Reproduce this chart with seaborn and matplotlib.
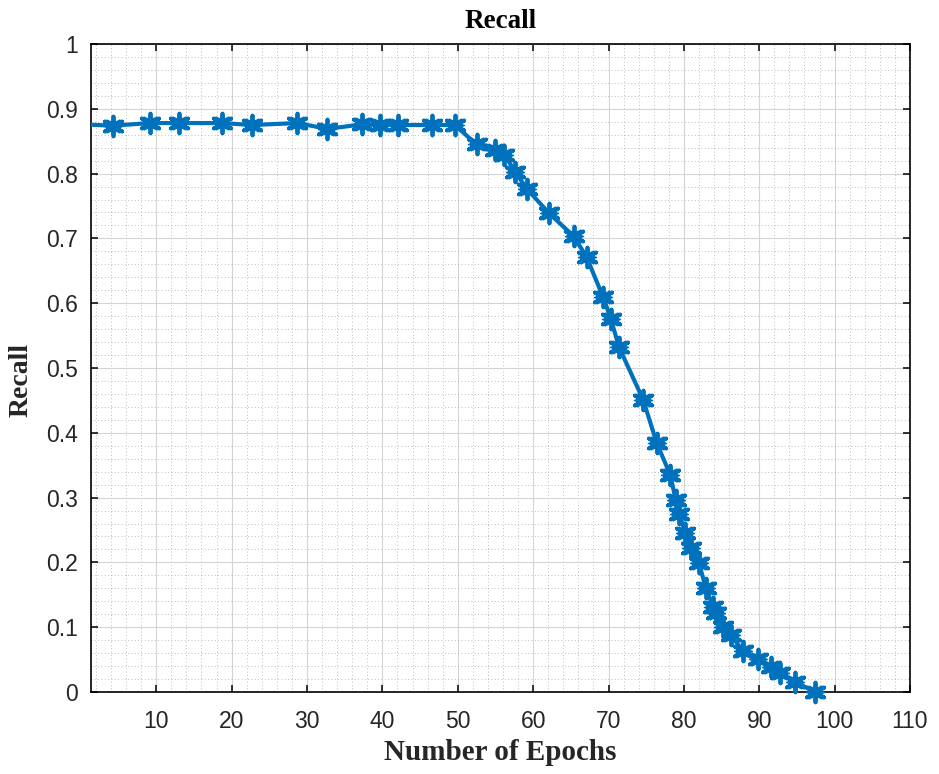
import numpy as np
import pandas as pd
import matplotlib
matplotlib.use("Agg")
import matplotlib.pyplot as plt
import seaborn as sns
from matplotlib.ticker import MultipleLocator

# ---- data ----
epochs = [0, 4.2, 9.2, 13.0, 18.7, 22.7, 28.7, 32.7, 37.3, 39.7, 42.1, 46.6, 49.6,
          52.5, 54.9, 56.2, 57.6, 59.2, 62.1, 65.4, 67.1, 69.3, 70.3, 71.4, 74.6,
          76.4, 78.2, 78.9, 79.4, 80.2, 80.9, 82.0, 82.9, 83.9, 84.2, 85.2, 86.2,
          87.9, 89.8, 91.5, 92.7, 94.7, 97.4]
recall = [0.876, 0.874, 0.878, 0.878, 0.878, 0.875, 0.878, 0.869, 0.876, 0.875, 0.875,
          0.875, 0.875, 0.845, 0.836, 0.829, 0.803, 0.776, 0.739, 0.703, 0.671, 0.609,
          0.576, 0.532, 0.451, 0.384, 0.335, 0.297, 0.274, 0.245, 0.222, 0.199, 0.161,
          0.131, 0.122, 0.101, 0.088, 0.063, 0.051, 0.038, 0.030, 0.016, 0.0]
x_ticks = [10, 20, 30, 40, 50, 60, 70, 80, 90, 100, 110]
y_ticks = [0, 0.1, 0.2, 0.3, 0.4, 0.5, 0.6, 0.7, 0.8, 0.9, 1]
y_tick_labels = ["0", "0.1", "0.2", "0.3", "0.4", "0.5", "0.6", "0.7", "0.8", "0.9", "1"]
title = "Recall"
xlabel = "Number of Epochs"
ylabel = "Recall"

df = pd.DataFrame({"epoch": epochs, "recall": recall})

sns.set_theme(style="white")
plt.rcParams["font.family"] = ["Liberation Sans", "DejaVu Sans"]

BLUE = "#0072BD"
XMIN, XMAX = 1.3, 110

fig = plt.figure(figsize=(9.39, 7.74), dpi=100)
ax = fig.add_axes([90.7 / 939, 1 - 692 / 774, (910 - 90.7) / 939, (692 - 44) / 774])

# line (clipped)
sns.lineplot(data=df, x="epoch", y="recall", ax=ax, color=BLUE, linewidth=3.0,
             sort=False, estimator=None, zorder=3)
# markers (only those whose centres are inside the axes, not clipped)
vis = df[df["epoch"] >= XMIN]
sns.scatterplot(data=vis, x="epoch", y="recall", ax=ax, marker=(8, 1, 0), s=170,
                facecolor=BLUE, edgecolor=BLUE, linewidth=1.0, zorder=5, clip_on=False)
sns.scatterplot(data=vis, x="epoch", y="recall", ax=ax, marker=(6, 2, 0), s=200,
                color=BLUE, linewidth=2.8, zorder=5, clip_on=False)

ax.set_xlim(XMIN, XMAX)
ax.set_ylim(0, 1)
ax.set_xticks(x_ticks)
ax.set_yticks(y_ticks)
ax.set_yticklabels(y_tick_labels)
ax.xaxis.set_minor_locator(MultipleLocator(2))
ax.yaxis.set_minor_locator(MultipleLocator(0.02))

ax.grid(which="major", color="#d4d4d4", linewidth=0.8, linestyle="-", zorder=0)
ax.grid(which="minor", color="#a8a8a8", linewidth=0.6, linestyle=(0, (1, 3)), zorder=0)
ax.set_axisbelow(True)

for s in ax.spines.values():
    s.set_visible(True)
    s.set_color("black")
    s.set_linewidth(1.2)

ax.tick_params(which="major", direction="in", length=5, width=1.1, color="black",
               top=True, right=True, bottom=True, left=True, labelsize=16.5,
               labelcolor="#262626")
ax.tick_params(axis="x", which="major", pad=13)
ax.tick_params(axis="y", which="major", pad=9)
ax.tick_params(which="minor", length=0)

ax.set_xlabel(xlabel, fontfamily="Liberation Serif", fontweight="bold", fontsize=21,
              va="center", color="#262626")
ax.xaxis.set_label_coords(0.5, (692 - 753) / 648)
ax.set_ylabel(ylabel, fontfamily="Liberation Serif", fontweight="bold", fontsize=20,
              va="center", color="#262626")
ax.yaxis.set_label_coords((21 - 90.7) / 819.3, (692 - 380) / 648)
ax.set_title(title, fontfamily="Liberation Serif", fontweight="bold", fontsize=19.5,
             y=(692 - 21) / 648, va="center", pad=0, color="black")

fig.savefig("out.png", dpi=100)
